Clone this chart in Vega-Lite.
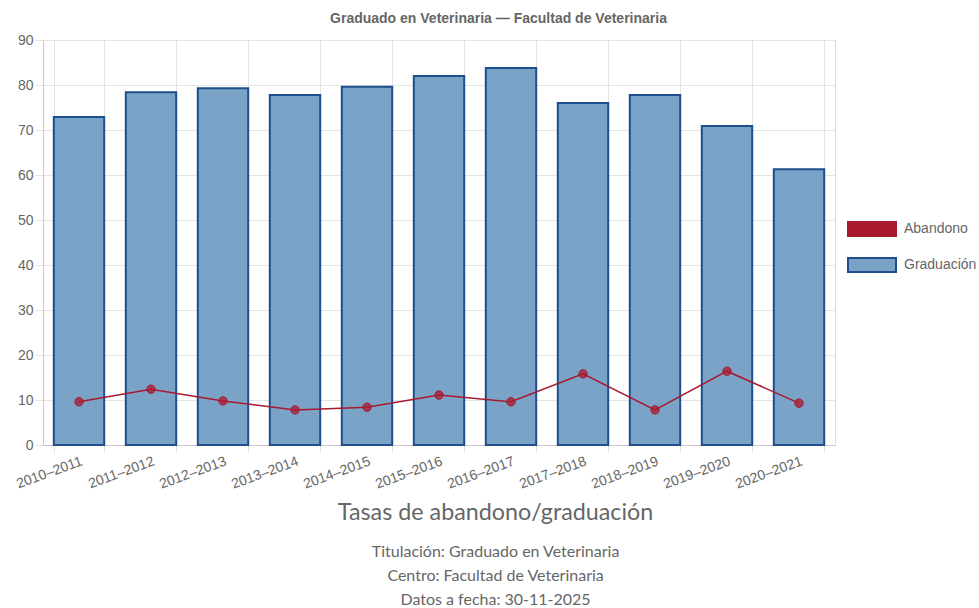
{
  "$schema": "https://vega.github.io/schema/vega-lite/v6.json",
  "width": 792,
  "height": 405,
  "autosize": {"type": "none"},
  "padding": {"left": 43, "top": 40, "right": 144, "bottom": 163},
  "background": "white",
  "config": {
    "legend": {
      "orient": "none", "legendX": 804, "legendY": 164, "title": null,
      "symbolType": "M-1,-0.29H1V0.29H-1Z", "symbolSize": 2304,
      "labelFont": "Liberation Sans", "labelFontSize": 14, "labelColor": "#666666",
      "labelOffset": 7, "rowPadding": -10, "symbolStrokeWidth": 2, "symbolOpacity": 1
    }
  },
  "title": {
    "text": "Tasas de abandono/graduación",
    "subtitle": ["Titulación: Graduado en Veterinaria", "Centro: Facultad de Veterinaria", "Datos a fecha: 30-11-2025"],
    "orient": "bottom",
    "anchor": "middle",
    "frame": "bounds",
    "font": "Lato",
    "fontSize": 23.3,
    "fontWeight": "normal",
    "color": "#666666",
    "subtitleFont": "Lato",
    "subtitleFontSize": 16,
    "subtitleColor": "#666666",
    "subtitleLineHeight": 24,
    "subtitlePadding": 19,
    "offset": 11
  },
  "data": {
    "values": [
      {"curso": "2010–2011", "graduacion": 72.9, "abandono": 9.6},
      {"curso": "2011–2012", "graduacion": 78.4, "abandono": 12.4},
      {"curso": "2012–2013", "graduacion": 79.3, "abandono": 9.8},
      {"curso": "2013–2014", "graduacion": 77.8, "abandono": 7.8},
      {"curso": "2014–2015", "graduacion": 79.6, "abandono": 8.4},
      {"curso": "2015–2016", "graduacion": 82.0, "abandono": 11.1},
      {"curso": "2016–2017", "graduacion": 83.8, "abandono": 9.6},
      {"curso": "2017–2018", "graduacion": 76.0, "abandono": 15.8},
      {"curso": "2018–2019", "graduacion": 77.8, "abandono": 7.8},
      {"curso": "2019–2020", "graduacion": 70.9, "abandono": 16.4},
      {"curso": "2020–2021", "graduacion": 61.3, "abandono": 9.3}
    ]
  },
  "layer": [
    {
      "mark": {"type": "bar", "strokeWidth": 2},
      "encoding": {
        "x": {
          "field": "curso", "type": "nominal", "sort": null,
          "scale": {"paddingInner": 0.3, "paddingOuter": 0.15},
          "axis": {
            "orient": "bottom", "title": null, "labelAngle": -20, "tickBand": "extent",
            "grid": true, "gridColor": "#e4e4e4", "tickColor": "#e4e4e4", "tickSize": 8,
            "domainColor": "#c8c8c8", "labelFont": "Liberation Sans", "labelFontSize": 14,
            "labelColor": "#666666", "labelPadding": 1
          }
        },
        "y": {
          "field": "graduacion", "type": "quantitative",
          "scale": {"domain": [0, 90]},
          "axis": {
            "title": null, "values": [0, 10, 20, 30, 40, 50, 60, 70, 80, 90],
            "grid": true, "gridColor": "#e4e4e4", "tickColor": "#e4e4e4", "tickSize": 8,
            "domainColor": "#c8c8c8", "labelFont": "Liberation Sans", "labelFontSize": 14,
            "labelColor": "#666666", "labelPadding": 2
          }
        },
        "fill": {
          "datum": "Graduación", "type": "nominal",
          "scale": {"domain": ["Abandono", "Graduación"], "range": ["#a8192e", "#7ba3c8"]}
        },
        "stroke": {
          "datum": "Graduación", "type": "nominal",
          "scale": {"domain": ["Abandono", "Graduación"], "range": ["#a8192e", "#1c4f8c"]}
        }
      }
    },
    {
      "mark": {
        "type": "line", "strokeWidth": 1.5,
        "point": {"filled": true, "size": 70, "fill": "#a8192e", "fillOpacity": 0.75, "strokeWidth": 1}
      },
      "encoding": {
        "x": {
          "field": "curso", "type": "nominal", "sort": null,
          "axis": {
            "orient": "top", "labels": false, "ticks": false, "domain": false, "grid": false,
            "title": "Graduado en Veterinaria — Facultad de Veterinaria",
            "titleFont": "Liberation Sans", "titleFontSize": 14, "titleFontWeight": "bold",
            "titleColor": "#666666", "titlePadding": 15, "titleX": 455
          }
        },
        "y": {"field": "abandono", "type": "quantitative", "axis": {"title": null}},
        "stroke": {"datum": "Abandono", "type": "nominal"}
      }
    }
  ],
  "resolve": {"axis": {"x": "independent"}}
}
